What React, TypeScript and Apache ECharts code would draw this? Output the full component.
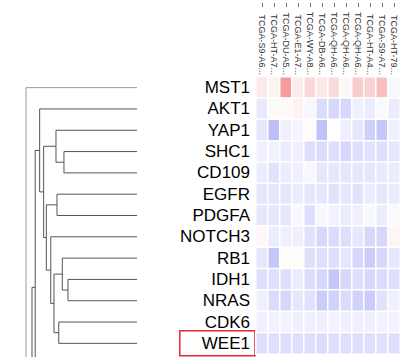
import React, { useEffect, useRef } from "react";
import * as echarts from "echarts";

const genes = ["MST1", "AKT1", "YAP1", "SHC1", "CD109", "EGFR", "PDGFA", "NOTCH3", "RB1", "IDH1", "NRAS", "CDK6", "WEE1"];
const samples = [
  "TCGA-S9-A6...", "TCGA-HT-A7...", "TCGA-DU-A5...", "TCGA-E1-A7...", "TCGA-WY-A8...", "TCGA-DB-A6...",
  "TCGA-QH-A6...", "TCGA-QH-A6...", "TCGA-QH-A6...", "TCGA-HT-A4...", "TCGA-S9-A7...", "TCGA-HT-79...",
];

const mst1 = [0.13, 0.07, 0.6, 0.12, 0.24, 0.14, 0.22, 0.05, 0.3, 0.27, 0.38, -0.05];
const akt1 = [-0.14, 0.03, 0.03, 0.08, -0.05, -0.22, -0.25, -0.25, -0.1, -0.12, -0.03, -0.12];
const yap1 = [-0.15, -0.4, -0.1, -0.06, 0.02, -0.38, 0.0, -0.1, -0.15, -0.3, -0.35, -0.1];
const shc1 = [-0.1, -0.08, -0.12, -0.1, -0.2, -0.22, -0.2, -0.25, -0.2, -0.18, -0.2, -0.15];
const cd109 = [-0.12, -0.18, -0.12, -0.1, -0.05, -0.15, -0.15, -0.15, -0.15, -0.15, -0.13, -0.12];
const egfr = [-0.15, -0.15, -0.15, -0.12, -0.15, -0.15, -0.18, -0.15, -0.18, -0.12, -0.15, -0.12];
const pdgfa = [-0.15, -0.15, -0.15, -0.04, -0.2, -0.05, -0.08, -0.12, -0.1, -0.05, -0.12, -0.03];
const notch3 = [0.05, -0.12, -0.1, -0.1, -0.18, -0.25, -0.22, -0.2, -0.15, -0.25, -0.25, 0.06];
const rb1 = [-0.15, -0.35, 0.02, 0.02, -0.2, -0.2, -0.2, -0.15, -0.25, -0.32, -0.25, -0.15];
const idh1 = [-0.2, -0.2, -0.2, -0.12, -0.22, -0.25, -0.35, -0.25, -0.2, -0.25, -0.22, -0.2];
const nras = [-0.1, -0.22, -0.25, -0.15, -0.18, -0.32, -0.28, -0.22, -0.28, -0.32, -0.18, -0.1];
const cdk6 = [-0.1, -0.08, -0.08, -0.1, -0.1, -0.1, -0.08, -0.1, -0.1, -0.1, -0.08, -0.08];
const wee1 = [-0.2, -0.2, -0.2, -0.2, -0.2, -0.22, -0.2, -0.2, -0.2, -0.2, -0.18, -0.2];
const matrix = [mst1, akt1, yap1, shc1, cd109, egfr, pdgfa, notch3, rb1, idh1, nras, cdk6, wee1];

// Rows of clusters continuing below the visible area (row units)
const hiddenLeafRows = [15.8, 22];
// Merges: [childA, childB, height]; child >= 0 -> leaf row (13,14 -> hidden leaves), child < 0 -> merge index -(i+1)
const merges: [number, number, number][] = [
  [3, 4, 0.658], // 0 SHC1 + CD109
  [2, -1, 0.73], // 1 YAP1 + (0)
  [5, 6, 0.721], // 2 EGFR + PDGFA
  [9, 10, 0.622], // 3 IDH1 + NRAS
  [8, -4, 0.673], // 4 RB1 + (3)
  [11, 12, 0.705], // 5 CDK6 + WEE1
  [-5, -6, 0.748], // 6
  [7, -7, 0.777], // 7 NOTCH3 + (6)
  [-3, -8, 0.817], // 8
  [-2, -9, 0.841], // 9
  [1, -10, 0.877], // 10 AKT1 + (9)
  [-11, 13, 0.917], // 11
  [-12, 14, 0.946], // 12
  [0, -13, 1.0], // 13 root MST1 + (12)
];

const FONT = "'Liberation Sans', Arial, Helvetica, sans-serif";

export default function App() {
  const ref = useRef<HTMLDivElement>(null);
  useEffect(() => {
    if (!ref.current) return;
    const chart = echarts.init(ref.current, undefined, { renderer: "svg" });

    const heatData: number[][] = [];
    matrix.forEach((row, r) => row.forEach((v, c) => heatData.push([c, r, v])));

    const nodePos: { y: number; h: number }[] = [];
    const childPos = (ref: number) => {
      if (ref >= 0) {
        const y = ref < genes.length ? ref : hiddenLeafRows[ref - genes.length];
        return { y, h: 0 };
      }
      return nodePos[-ref - 1];
    };
    const dendroData: number[][] = merges.map(([a, b, h]) => {
      const pa = childPos(a);
      const pb = childPos(b);
      nodePos.push({ y: (pa.y + pb.y) / 2, h });
      return [h, pa.y, pb.y, pa.h, pb.h];
    });

    const option: any = {
      animation: false,
      textStyle: { fontFamily: FONT },
      grid: [
        { left: 256, top: 77, width: 145, height: 277 },
        { left: 26, top: 77, width: 111, height: 277 },
      ],
      xAxis: [
        {
          type: "category",
          gridIndex: 0,
          position: "top",
          data: samples,
          axisLine: { show: false },
          axisTick: { show: false },
          axisLabel: { rotate: 90, fontSize: 9, color: "#333", margin: 2, interval: 0, fontFamily: FONT },
        },
        {
          type: "category",
          gridIndex: 0,
          position: "top",
          offset: 70,
          data: samples,
          axisLine: { show: false },
          axisTick: { show: true, length: 4, alignWithLabel: true, interval: 0, lineStyle: { color: "#777" } },
          axisLabel: { show: false },
        },
        { type: "value", gridIndex: 1, min: 0, max: 1, inverse: true, show: false },
      ],
      yAxis: [
        {
          type: "category",
          gridIndex: 0,
          data: genes,
          inverse: true,
          axisLine: { show: false },
          axisTick: { show: false },
          axisLabel: {
            margin: 1,
            interval: 0,
            formatter: (v: string) => (v === "WEE1" ? `{box|${v}}` : `{n|${v}}`),
            rich: {
              n: { fontSize: 17, color: "#000", fontFamily: FONT, padding: [0, 5, 0, 0] },
              box: {
                fontSize: 17,
                color: "#000",
                fontFamily: FONT,
                lineHeight: 17,
                borderColor: "#e8262a",
                borderWidth: 1.5,
                padding: [4, 5, 4, 22],
              },
            },
          },
        },
        { type: "value", gridIndex: 1, min: -0.5, max: 12.5, inverse: true, show: false },
      ],
      visualMap: {
        show: false,
        type: "continuous",
        min: -1,
        max: 1,
        seriesIndex: 0,
        inRange: { color: ["#5a60ee", "#ffffff", "#ee5858"] },
      },
      series: [
        {
          type: "heatmap",
          xAxisIndex: 0,
          yAxisIndex: 0,
          data: heatData,
          itemStyle: { borderColor: "#fff", borderWidth: 1.5 },
        },
        {
          type: "custom",
          xAxisIndex: 2,
          yAxisIndex: 1,
          data: dendroData,
          encode: { x: 0, y: [1, 2] },
          renderItem: (params: any, api: any) => {
            const h = api.value(0);
            const ya = api.value(1);
            const yb = api.value(2);
            const ha = api.value(3);
            const hb = api.value(4);
            const p1 = api.coord([ha, ya]);
            const p2 = api.coord([h, ya]);
            const p3 = api.coord([h, yb]);
            const p4 = api.coord([hb, yb]);
            const isRoot = params.dataIndex === merges.length - 1;
            return {
              type: "polyline",
              shape: { points: [p1, p2, p3, p4] },
              style: { stroke: isRoot ? "#999" : "#555", fill: "none", lineWidth: 1 },
            };
          },
        },
      ],
    };
    chart.setOption(option);
    return () => chart.dispose();
  }, []);

  return (
    <div
      ref={ref}
      style={{ position: "fixed", left: 0, top: 0, width: 400, height: 357, background: "#fff" }}
    />
  );
}
